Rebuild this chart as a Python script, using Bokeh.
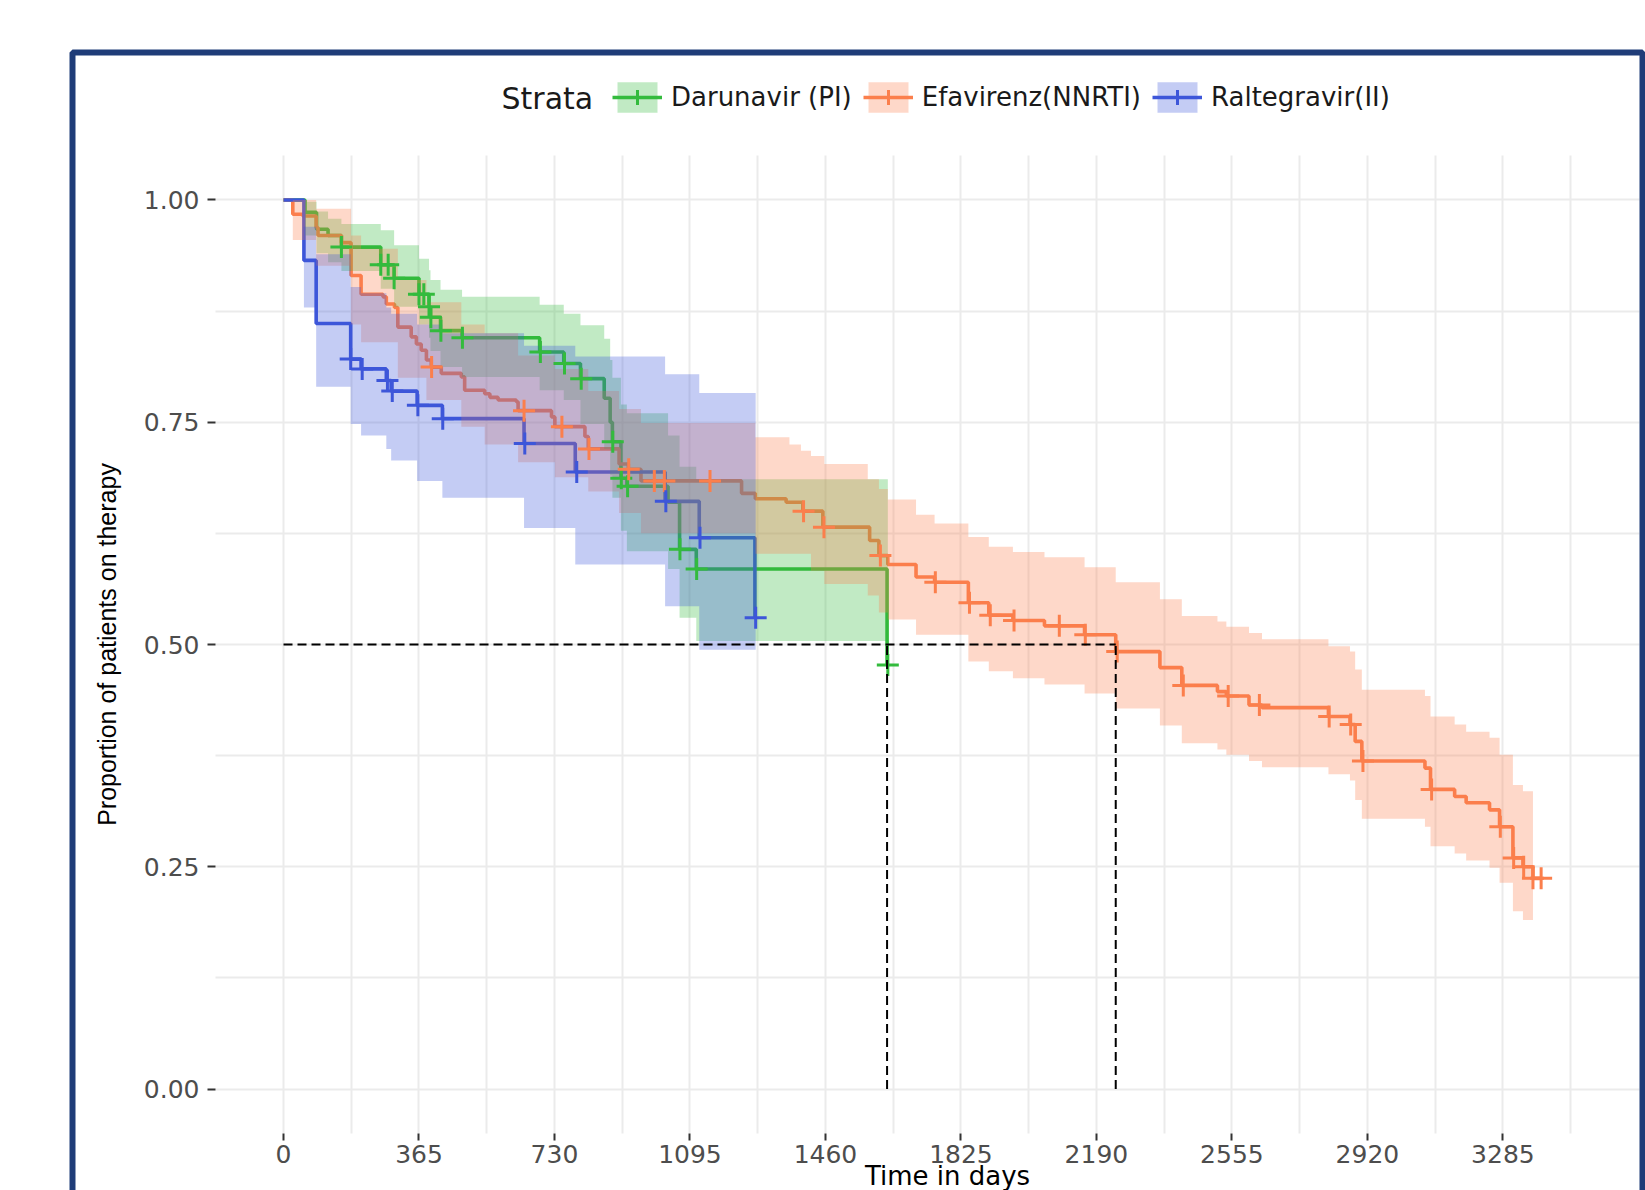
import numpy as np
from bokeh.plotting import figure
from bokeh.models import (Range1d, FixedTicker, PrintfTickFormatter, Legend, LegendItem,
                          BoxAnnotation, Label, LinearAxis, Grid)
from bokeh.embed import file_html
from bokeh.resources import INLINE

# ---------------- data ----------------
strata = ["Darunavir (PI)", "Efavirenz(NNRTI)", "Raltegravir(II)"]
legend_title = "Strata"
colors = ["#33BB3D", "#FB7F4C", "#3D56D9"]

# Darunavir (PI)
dar_time = [0, 58, 89, 120, 156, 262, 298, 365, 392, 396, 423, 481, 690, 755, 800, 864, 880, 886, 909, 925, 1036, 1067, 1112, 1626]
dar_surv = [1.0, 0.986, 0.967, 0.960, 0.947, 0.927, 0.912, 0.894, 0.880, 0.868, 0.853, 0.845, 0.829, 0.816, 0.799, 0.777, 0.750, 0.728, 0.687, 0.678, 0.660, 0.607, 0.585, 0.477]
dar_ci_time = dar_time
dar_ci_lower = [1.0, 0.960, 0.940, 0.930, 0.920, 0.900, 0.880, 0.860, 0.845, 0.830, 0.812, 0.801, 0.786, 0.775, 0.748, 0.720, 0.690, 0.665, 0.628, 0.605, 0.585, 0.530, 0.504, 0.504]
dar_ci_upper = [1.0, 0.998, 0.987, 0.979, 0.973, 0.966, 0.949, 0.934, 0.921, 0.910, 0.899, 0.891, 0.882, 0.872, 0.859, 0.844, 0.820, 0.800, 0.770, 0.760, 0.735, 0.700, 0.686, 0.686]
dar_censor = [156, 262, 282, 298, 365, 378, 392, 397, 424, 482, 692, 757, 802, 887, 910, 927, 1068, 1113, 1628]
dar_end = 1628

# Efavirenz (NNRTI)
efa_time = [0, 25, 52, 88, 93, 156, 182, 209, 268, 277, 299, 308, 344, 358, 371, 385, 398, 425, 479, 488,
            542, 556, 578, 627, 632, 722, 731, 812, 821, 904, 929, 963, 1234, 1271, 1354, 1399, 1453, 1579, 1604, 1628,
            1704, 1754, 1845, 1900, 1965, 2050, 2158, 2242, 2361, 2420, 2516, 2540, 2601, 2636, 2815, 2873, 2887, 2905, 3075, 3090,
            3155, 3186, 3249, 3276, 3312, 3339, 3366]
efa_surv = [1.0, 0.984, 0.982, 0.969, 0.960, 0.952, 0.915, 0.894, 0.891, 0.883, 0.879, 0.857, 0.846, 0.838, 0.831, 0.820, 0.812, 0.805, 0.801, 0.786,
            0.782, 0.778, 0.775, 0.773, 0.763, 0.756, 0.745, 0.734, 0.720, 0.703, 0.697, 0.684, 0.670, 0.664, 0.660, 0.650, 0.632, 0.617, 0.600, 0.590,
            0.576, 0.570, 0.547, 0.533, 0.527, 0.521, 0.511, 0.492, 0.474, 0.454, 0.447, 0.442, 0.432, 0.429, 0.419, 0.410, 0.391, 0.369, 0.361, 0.337,
            0.329, 0.322, 0.314, 0.295, 0.260, 0.250, 0.237]
efa_ci_time = [0, 25, 88, 182, 209, 308, 385, 479, 542, 632, 731, 821, 904, 963, 1271, 1363, 1394, 1421, 1457, 1574, 1604, 1628,
               1704, 1754, 1845, 1900, 1965, 2050, 2158, 2242, 2361, 2420, 2516, 2540, 2601, 2636, 2815, 2873, 2887, 2905,
               3075, 3090, 3155, 3186, 3249, 3276, 3312, 3339]
efa_ci_lower = [1.0, 0.955, 0.926, 0.860, 0.840, 0.800, 0.775, 0.745, 0.725, 0.705, 0.688, 0.672, 0.648, 0.625, 0.602, 0.602, 0.602, 0.583, 0.568, 0.555, 0.536, 0.528,
                0.511, 0.511, 0.481, 0.470, 0.462, 0.455, 0.445, 0.428, 0.409, 0.389, 0.382, 0.376, 0.369, 0.362, 0.354, 0.347, 0.325, 0.304,
                0.295, 0.273, 0.265, 0.257, 0.249, 0.232, 0.200, 0.190]
efa_ci_upper = [1.0, 1.0, 0.990, 0.960, 0.945, 0.910, 0.885, 0.860, 0.850, 0.825, 0.810, 0.785, 0.765, 0.749, 0.733, 0.725, 0.718, 0.712, 0.703, 0.686, 0.675, 0.663,
                0.646, 0.636, 0.621, 0.610, 0.604, 0.598, 0.587, 0.570, 0.551, 0.532, 0.526, 0.520, 0.513, 0.506, 0.498, 0.492, 0.472, 0.449,
                0.442, 0.419, 0.410, 0.402, 0.395, 0.376, 0.342, 0.335]
efa_censor = [399, 648, 750, 823, 930, 999, 1026, 1149, 1401, 1456, 1608, 1756, 1848, 1904, 1968, 2090, 2160, 2246, 2424, 2545,
              2629, 2817, 2875, 2908, 3093, 3278, 3314, 3341, 3366, 3388]
efa_ci_end = 3366
efa_end = 3388

# Raltegravir (II)
ral_time = [0, 55, 88, 181, 209, 277, 290, 360, 428, 648, 786, 1028, 1120, 1270]
ral_surv = [1.0, 0.932, 0.861, 0.821, 0.810, 0.797, 0.785, 0.769, 0.754, 0.726, 0.694, 0.661, 0.620, 0.530]
ral_ci_time = ral_time
ral_ci_lower = [1.0, 0.879, 0.790, 0.748, 0.735, 0.720, 0.707, 0.684, 0.665, 0.631, 0.590, 0.543, 0.494, 0.494]
ral_ci_upper = [1.0, 0.970, 0.939, 0.902, 0.895, 0.879, 0.872, 0.860, 0.850, 0.836, 0.824, 0.804, 0.783, 0.783]
ral_censor = [181, 212, 280, 293, 362, 429, 650, 790, 1030, 1122, 1272]
ral_end = 1272

x_ticks = [0, 365, 730, 1095, 1460, 1825, 2190, 2555, 2920, 3285]
y_ticks = [0.0, 0.25, 0.5, 0.75, 1.0]

series = [
    dict(t=dar_time, s=dar_surv, ct=dar_ci_time, lo=dar_ci_lower, hi=dar_ci_upper, cens=dar_censor, end=dar_end, ci_end=dar_end),
    dict(t=efa_time, s=efa_surv, ct=efa_ci_time, lo=efa_ci_lower, hi=efa_ci_upper, cens=efa_censor, end=efa_end, ci_end=efa_ci_end),
    dict(t=ral_time, s=ral_surv, ct=ral_ci_time, lo=ral_ci_lower, hi=ral_ci_upper, cens=ral_censor, end=ral_end, ci_end=ral_end),
]

# ---------------- layout ----------------
W, H = 1645, 1190
PL, PR, PT, PB = 215, 1639, 155, 1133          # plotting panel edges in page pixels
X0, X1 = -183.2, 3653.0                        # panel limits (days)
Y0, Y1 = -0.05, 1.05
KX = (X1 - X0) / (PR - PL)
KY = (Y1 - Y0) / (PB - PT)

def dx(px):
    return X0 + (px - PL) * KX

def dy(py):
    return Y0 + (PB - py) * KY

p = figure(width=W, height=H, x_range=Range1d(dx(0), dx(W)), y_range=Range1d(dy(H), dy(0)),
           x_axis_type=None, y_axis_type=None, title=None,
           output_backend="svg", toolbar_location=None,
           min_border=0, min_border_left=0, min_border_right=0, min_border_top=0, min_border_bottom=0,
           background_fill_color="white", border_fill_color="white", outline_line_color=None)

x_minor = [t + 182.5 for t in x_ticks]
y_minor = [t + 0.125 for t in y_ticks[:-1]]
xticker = FixedTicker(ticks=x_ticks, minor_ticks=x_minor)
yticker = FixedTicker(ticks=y_ticks, minor_ticks=y_minor)

# grid restricted to the panel
grid_ok = True
try:
    for dim, tk, cb in ((0, xticker, (Y0, Y1)), (1, yticker, (X0, X1))):
        g = Grid(dimension=dim, ticker=tk, cross_bounds=cb,
                 grid_line_color="#EBEBEB", grid_line_width=2,
                 minor_grid_line_color="#EBEBEB", minor_grid_line_width=2)
        p.add_layout(g)
except Exception:
    grid_ok = False
if not grid_ok:
    gx = x_ticks + x_minor
    gy = y_ticks + y_minor
    p.segment(x0=gx, y0=[Y0] * len(gx), x1=gx, y1=[Y1] * len(gx), line_color="#EBEBEB", line_width=2)
    p.segment(x0=[X0] * len(gy), y0=gy, x1=[X1] * len(gy), y1=gy, line_color="#EBEBEB", line_width=2)

# axes anchored at the panel edges
xaxis = LinearAxis(ticker=xticker, fixed_location=Y0, bounds=(X0, X1))
yaxis = LinearAxis(ticker=yticker, fixed_location=X0, bounds=(Y0, Y1),
                   formatter=PrintfTickFormatter(format="%.2f"))
for ax in (xaxis, yaxis):
    ax.axis_line_color = None
    ax.major_tick_line_color = "#333333"
    ax.major_tick_line_width = 2
    ax.major_tick_in = 0
    ax.minor_tick_line_color = None
    ax.major_label_text_font = "DejaVu Sans"
    ax.major_label_text_font_size = "25px"
    ax.major_label_text_color = "#4D4D4D"
xaxis.major_tick_out = 7
yaxis.major_tick_out = 8
xaxis.major_label_standoff = 4
yaxis.major_label_standoff = 8
yaxis.axis_label = "Proportion of patients on therapy"
yaxis.axis_label_text_font = "Liberation Sans"
yaxis.axis_label_text_font_size = "25px"
yaxis.axis_label_text_font_style = "normal"
yaxis.axis_label_text_color = "black"
yaxis.axis_label_standoff = 20
p.add_layout(xaxis, "below")
p.add_layout(yaxis, "left")

# ---------------- survival curves ----------------
line_r, area_r, scat_r = [], [], []
for sr, c in zip(series, colors):
    t = list(sr["t"]) + [sr["end"]]
    s = list(sr["s"]) + [sr["s"][-1]]
    line_r.append(p.step(x=t, y=s, mode="after", line_color=c, line_width=3.6))

for sr, c in zip(series, colors):
    ct = np.append(np.asarray(sr["ct"], float), sr["ci_end"])
    xs = np.repeat(ct, 2)[1:-1]
    lo = np.repeat(np.asarray(sr["lo"], float), 2)
    hi = np.repeat(np.asarray(sr["hi"], float), 2)
    area_r.append(p.varea(x=xs, y1=lo, y2=hi, fill_color=c, fill_alpha=0.3))

for sr, c in zip(series, colors):
    t = np.asarray(sr["t"], float)
    s = np.asarray(sr["s"], float)
    cens = np.asarray(sr["cens"], float)
    idx = np.searchsorted(t, cens, side="right") - 1
    scat_r.append(p.scatter(x=cens, y=s[idx], marker="cross", size=22, line_width=3,
                            line_color=c, fill_color=c))

# median survival lines
medians = []
for sr in series:
    s = np.asarray(sr["s"])
    below = np.nonzero(s <= 0.5)[0]
    if len(below):
        medians.append(sr["t"][below[0]])
p.line(x=[0, max(medians)], y=[0.5, 0.5], line_color="black", line_width=2, line_dash="9 5")
p.segment(x0=medians, y0=[0] * len(medians), x1=medians, y1=[0.5] * len(medians),
          line_color="black", line_width=2, line_dash="9 5")

# ---------------- legend ----------------
items = [LegendItem(label=strata[i], renderers=[area_r[i], line_r[i], scat_r[i]]) for i in range(3)]
legend = Legend(items=items, orientation="horizontal", location=(612, H - 116),
                label_text_font="DejaVu Sans", label_text_font_size="26px", label_text_color="#1A1A1A",
                glyph_width=50, glyph_height=38, spacing=11, label_standoff=9,
                padding=0, margin=0, border_line_color=None, background_fill_alpha=0)
p.add_layout(legend)
p.add_layout(Label(x=dx(501), y=dy(98), text=legend_title, text_align="left", text_baseline="middle",
                   text_font="DejaVu Sans", text_font_size="30px", text_color="#1A1A1A"))

# x axis title
p.add_layout(Label(x=dx(947), y=dy(1190), text="Time in days", text_align="center",
                   text_baseline="bottom", text_font="DejaVu Sans", text_font_size="26px",
                   text_color="black"))

# dark blue frame around the chart
p.add_layout(BoxAnnotation(left=dx(72), right=dx(1642), top=dy(52), bottom=dy(1215),
                           fill_alpha=0, line_color="#1F3C78", line_alpha=1.0, line_width=6))

open("out.html", "w").write(file_html(p, INLINE))
